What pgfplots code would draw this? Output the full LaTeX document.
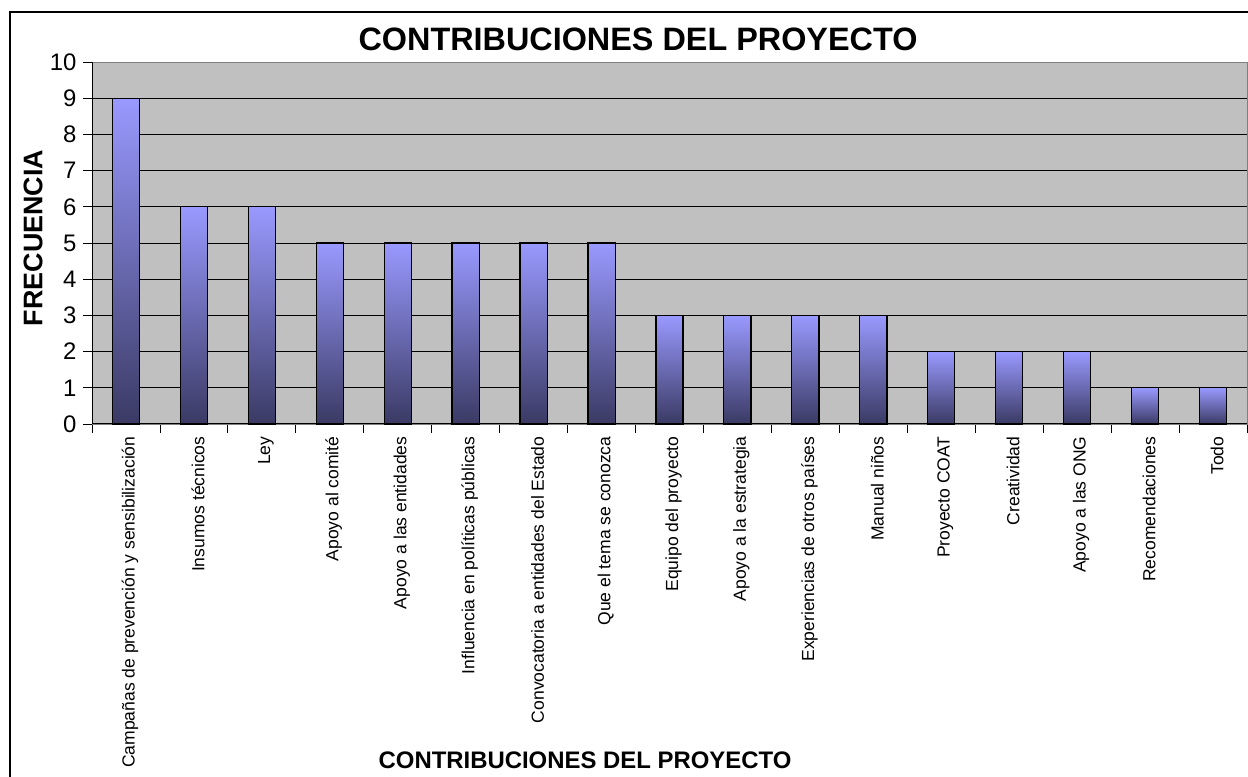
\documentclass[border=0pt]{standalone}
\usepackage{pgfplots}
\pgfplotsset{compat=1.18}
\usepackage{fontspec}
\setmainfont{Liberation Sans}
\definecolor{plotbg}{RGB}{192,192,192}
\definecolor{bartop}{RGB}{153,153,255}
\definecolor{barbot}{RGB}{58,58,100}
\begin{document}
\begin{tikzpicture}[x=1bp,y=1bp]
\path[use as bounding box] (0,0) rectangle (1248,777);
\begin{axis}[
  at={(92bp,353bp)}, anchor=south west,
  scale only axis, width=1155bp, height=362bp,
  xmin=-0.5, xmax=16.5, ymin=0, ymax=10,
  axis background/.style={fill=plotbg},
  axis line style={draw=gray, line width=0.8bp},
  ytick={0,1,...,10},
  ymajorgrids, major grid style={draw=black, line width=0.8bp},
  tick align=outside, tick pos=left,
  major tick length=9bp, minor tick length=9bp,
  every tick/.style={black, line width=0.8bp},
  xtick={0,1,...,16},
  major x tick style={draw=none},
  minor xtick={-0.5,0.5,...,16.5},
  xticklabels={Campañas de prevención y sensibilización,Insumos técnicos,Ley,Apoyo al comité,Apoyo a las entidades,Influencia en políticas públicas,Convocatoria a entidades del Estado,Que el tema se conozca,Equipo del proyecto,Apoyo a la estrategia,Experiencias de otros países,Manual niños,Proyecto COAT,Creatividad,Apoyo a las ONG,Recomendaciones,Todo},
  xticklabel style={rotate=90, anchor=east, font=\fontsize{17.6}{21}\selectfont, yshift=-4bp},
  yticklabel style={font=\fontsize{24}{28}\selectfont, xshift=-3bp},
  /pgf/number format/assume math mode=true,
  clip=false,
  bb/.style={ybar, bar width=0.4, bar shift=0pt, draw=black, line width=1.2bp, top color=bartop, bottom color=barbot},
]
\addplot[bb] coordinates {(0,9)};
\addplot[bb] coordinates {(1,6)};
\addplot[bb] coordinates {(2,6)};
\addplot[bb] coordinates {(3,5)};
\addplot[bb] coordinates {(4,5)};
\addplot[bb] coordinates {(5,5)};
\addplot[bb] coordinates {(6,5)};
\addplot[bb] coordinates {(7,5)};
\addplot[bb] coordinates {(8,3)};
\addplot[bb] coordinates {(9,3)};
\addplot[bb] coordinates {(10,3)};
\addplot[bb] coordinates {(11,3)};
\addplot[bb] coordinates {(12,2)};
\addplot[bb] coordinates {(13,2)};
\addplot[bb] coordinates {(14,2)};
\addplot[bb] coordinates {(15,1)};
\addplot[bb] coordinates {(16,1)};
\draw[black, line width=1bp] (rel axis cs:0,1) -- (rel axis cs:0,0) -- (rel axis cs:1,0);
\end{axis}
\draw[black, line width=1.6bp] (10,0) -- (10,765) -- (1248,765);
\node[font=\fontsize{32.5}{36}\bfseries] at (638,738) {CONTRIBUCIONES DEL PROYECTO};
\node[font=\fontsize{24}{28}\bfseries] at (585,17) {CONTRIBUCIONES DEL PROYECTO};
\node[font=\fontsize{27}{31}\bfseries, rotate=90] at (33,539) {FRECUENCIA};
\end{tikzpicture}
\end{document}
